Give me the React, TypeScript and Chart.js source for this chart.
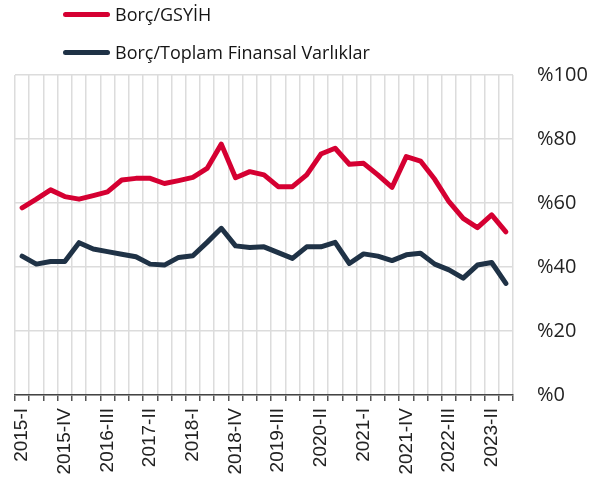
import React, { useEffect, useRef } from "react";
import { Chart, registerables } from "chart.js";

Chart.register(...registerables);

const quarters = [
  "2015-I", "2015-II", "2015-III", "2015-IV",
  "2016-I", "2016-II", "2016-III", "2016-IV",
  "2017-I", "2017-II", "2017-III", "2017-IV",
  "2018-I", "2018-II", "2018-III", "2018-IV",
  "2019-I", "2019-II", "2019-III", "2019-IV",
  "2020-I", "2020-II", "2020-III", "2020-IV",
  "2021-I", "2021-II", "2021-III", "2021-IV",
  "2022-I", "2022-II", "2022-III", "2022-IV",
  "2023-I", "2023-II", "2023-III",
];

const debtToGdp = [
  58.5, 61.2, 64.1, 62.0, 61.2, 62.3, 63.5, 67.2, 67.7, 67.7,
  66.1, 67.0, 68.0, 70.8, 78.4, 67.9, 69.8, 68.8, 65.1, 65.1,
  68.8, 75.3, 77.1, 72.1, 72.4, 68.8, 64.9, 74.5, 73.1, 67.4,
  60.4, 55.2, 52.3, 56.3, 51.0,
];

const debtToAssets = [
  43.4, 40.9, 41.7, 41.7, 47.6, 45.6, 44.8, 44.0, 43.2, 40.9,
  40.6, 43.0, 43.5, 47.7, 52.1, 46.6, 46.1, 46.3, 44.5, 42.7,
  46.3, 46.3, 47.7, 41.1, 44.1, 43.4, 42.0, 43.8, 44.3, 40.9,
  39.1, 36.5, 40.6, 41.4, 34.9,
];

const yTicks = [0, 20, 40, 60, 80, 100];

const seriesNames = ["Borç/GSYİH", "Borç/Toplam Finansal Varlıklar"];
const seriesColors = ["#d50032", "#1f3246"];

export default function App() {
  const ref = useRef<HTMLCanvasElement | null>(null);

  useEffect(() => {
    document.body.style.margin = "0";
    if (!ref.current) return;
    const chart = new Chart(ref.current, {
      type: "line",
      data: {
        labels: quarters,
        datasets: [
          {
            label: seriesNames[0],
            data: debtToGdp,
            borderColor: seriesColors[0],
            backgroundColor: seriesColors[0],
            borderWidth: 5,
            pointRadius: 0,
            tension: 0,
            borderJoinStyle: "round",
            borderCapStyle: "round",
          },
          {
            label: seriesNames[1],
            data: debtToAssets,
            borderColor: seriesColors[1],
            backgroundColor: seriesColors[1],
            borderWidth: 5,
            pointRadius: 0,
            tension: 0,
            borderJoinStyle: "round",
            borderCapStyle: "round",
          },
        ],
      },
      options: {
        responsive: false,
        animation: false,
        devicePixelRatio: 1,
        layout: { padding: { left: 15, top: 75, right: 0, bottom: 0 } },
        plugins: {
          legend: { display: false },
          tooltip: { enabled: false },
        },
        scales: {
          x: {
            offset: true,
            grid: {
              offset: true,
              color: "#dcdcdc",
              lineWidth: 1.5,
              tickColor: "#555555",
              tickLength: 6,
              tickWidth: 1.5,
            },
            border: { color: "#444444", width: 1.5 },
            ticks: {
              autoSkip: false,
              maxRotation: 90,
              minRotation: 90,
              padding: 7,
              color: "#222222",
              font: { family: "'Liberation Sans', Arial, sans-serif", size: 19 },
              callback: (_v: any, i: number) => (i % 3 === 0 ? quarters[i] : ""),
            },
            afterFit: (s: any) => {
              s.height = 93;
            },
          },
          y: {
            position: "right",
            min: 0,
            max: 100,
            afterBuildTicks: (s: any) => {
              s.ticks = yTicks.map((v) => ({ value: v }));
            },
            grid: {
              color: "#dcdcdc",
              lineWidth: 1.5,
              drawTicks: false,
            },
            border: { display: false },
            ticks: {
              padding: 24,
              color: "#222222",
              font: { family: "'Open Sans', sans-serif", size: 20 },
              callback: (v: any) => "%" + v,
            },
            afterFit: (s: any) => {
              s.width = 92;
            },
          },
        },
      },
    });
    return () => chart.destroy();
  }, []);

  const legendRow = (i: number, top: number) => (
    <div
      key={i}
      style={{
        position: "absolute",
        left: 63,
        top,
        height: 24,
        display: "flex",
        alignItems: "center",
        whiteSpace: "nowrap",
      }}
    >
      <span
        style={{
          display: "inline-block",
          width: 47,
          height: 5,
          borderRadius: 3,
          background: seriesColors[i],
          marginRight: 5,
        }}
      />
      <span
        style={{
          fontFamily: "'Open Sans', sans-serif",
          fontSize: 18,
          lineHeight: "24px",
          color: "#151515",
        }}
      >
        {seriesNames[i]}
      </span>
    </div>
  );

  return (
    <div style={{ position: "relative", width: 605, height: 488 }}>
      <canvas ref={ref} width={605} height={488} style={{ display: "block" }} />
      {legendRow(0, 2)}
      {legendRow(1, 40)}
    </div>
  );
}
